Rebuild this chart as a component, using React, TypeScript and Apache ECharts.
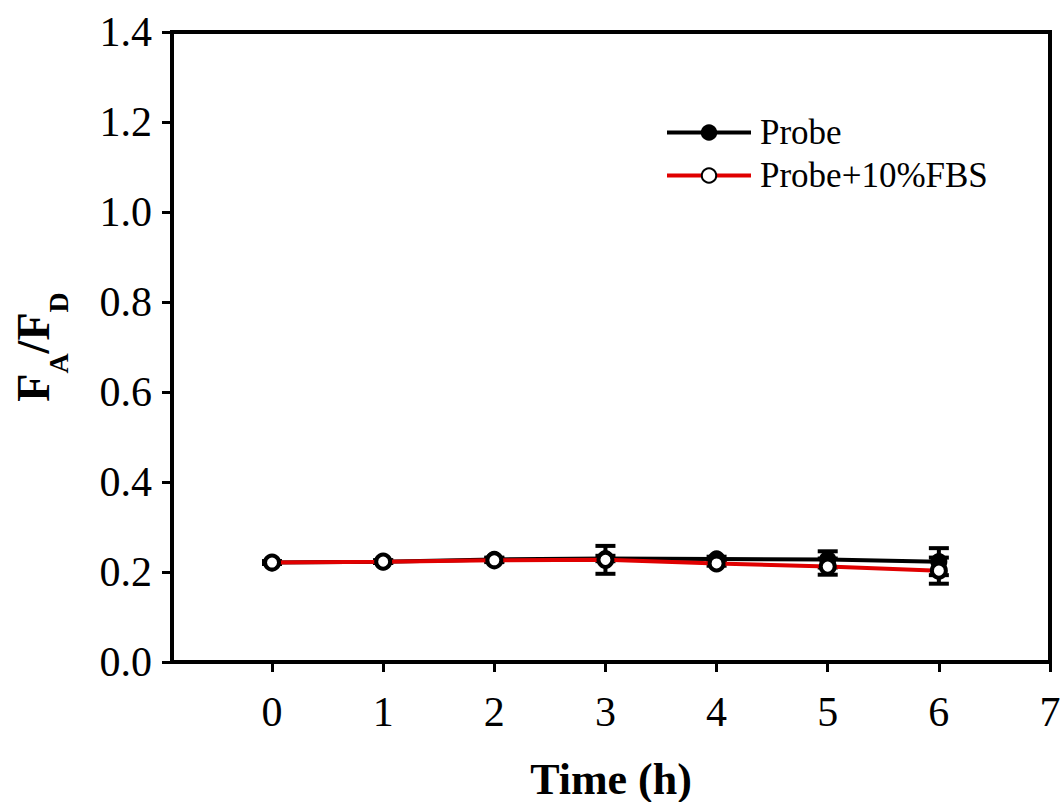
import React, { useEffect, useRef } from "react";
import * as echarts from "echarts";

const times = [0, 1, 2, 3, 4, 5, 6];
const probe = [0.221, 0.223, 0.228, 0.23, 0.229, 0.228, 0.223];
const probeErr = [0.003, 0.003, 0.004, 0.006, 0.005, 0.018, 0.03];
const fbs = [0.221, 0.223, 0.226, 0.227, 0.219, 0.212, 0.203];
const fbsErr = [0.003, 0.003, 0.004, 0.031, 0.005, 0.018, 0.029];
const xTicks = [0, 1, 2, 3, 4, 5, 6, 7];
const seriesNames = ["Probe", "Probe+10%FBS"];

const FONT = "'Liberation Serif', 'Times New Roman', serif";

function errorRender(params: any, api: any) {
  const x = api.value(0);
  const y = api.value(1);
  const e = api.value(2);
  const top = api.coord([x, y + e]);
  const bot = api.coord([x, y - e]);
  const hw = 10;
  const style = { stroke: "#000", lineWidth: 4 };
  return {
    type: "group",
    children: [
      { type: "line", shape: { x1: top[0], y1: top[1], x2: bot[0], y2: bot[1] }, style },
      { type: "line", shape: { x1: top[0] - hw, y1: top[1], x2: top[0] + hw, y2: top[1] }, style },
      { type: "line", shape: { x1: bot[0] - hw, y1: bot[1], x2: bot[0] + hw, y2: bot[1] }, style },
    ],
  };
}

export default function App() {
  const ref = useRef<HTMLDivElement>(null);
  useEffect(() => {
    if (!ref.current) return;
    const chart = echarts.init(ref.current, undefined, { renderer: "svg" });
    chart.setOption({
      animation: false,
      backgroundColor: "#fff",
      textStyle: { fontFamily: FONT },
      grid: {
        left: 172,
        right: 12,
        top: 32,
        bottom: 140,
        containLabel: false,
        outerBoundsMode: "none",
        show: true,
        borderColor: "#000",
        borderWidth: 4,
        backgroundColor: "transparent",
      },
      legend: {
        orient: "vertical",
        left: 660,
        top: 110,
        itemWidth: 84,
        itemHeight: 18,
        itemGap: 8,
        data: seriesNames,
        lineStyle: { width: 4 },
        textStyle: { fontFamily: FONT, fontSize: 35, color: "#000", padding: [0, 0, 0, 4] },
      },
      xAxis: {
        type: "value",
        min: -0.9,
        max: 7,
        splitLine: { show: false },
        axisLine: { show: true, onZero: false, lineStyle: { color: "#000", width: 4 } },
        axisTick: {
          show: true,
          inside: false,
          length: 10,
          customValues: xTicks,
          lineStyle: { color: "#000", width: 3 },
        },
        axisLabel: {
          customValues: xTicks,
          fontFamily: FONT,
          fontSize: 42,
          color: "#000",
          margin: 29,
        },
        name: "Time (h)",
        nameLocation: "middle",
        nameGap: 95,
        nameTextStyle: { fontFamily: FONT, fontSize: 44, fontWeight: "bold", color: "#000" },
      },
      yAxis: {
        type: "value",
        min: 0,
        max: 1.4,
        interval: 0.2,
        splitLine: { show: false },
        axisLine: { show: true, onZero: false, lineStyle: { color: "#000", width: 4 } },
        axisTick: { show: true, inside: false, length: 10, lineStyle: { color: "#000", width: 3 } },
        axisLabel: {
          fontFamily: FONT,
          fontSize: 42,
          color: "#000",
          margin: 20,
          formatter: (v: number) => v.toFixed(1),
        },
        name: "{f|F}{s|A}{f|/F}{s|D}",
        nameLocation: "middle",
        nameRotate: 90,
        nameGap: 112,
        nameTextStyle: {
          rich: {
            f: { fontFamily: FONT, fontSize: 46, fontWeight: "bold", color: "#000", lineHeight: 50, verticalAlign: "top" },
            s: { fontFamily: FONT, fontSize: 28, fontWeight: "bold", color: "#000", lineHeight: 50, verticalAlign: "bottom", padding: [0, 0, -12, 0] },
          },
        },
      },
      series: [
        {
          name: seriesNames[0],
          type: "line",
          data: times.map((t, i) => [t, probe[i]]),
          symbol: "circle",
          symbolSize: 15,
          lineStyle: { color: "#000", width: 4 },
          itemStyle: { color: "#000", borderColor: "#000", borderWidth: 2 },
          z: 2,
        },
        {
          name: "probeErr",
          type: "custom",
          renderItem: errorRender,
          data: times.map((t, i) => [t, probe[i], probeErr[i]]),
          z: 3,
          silent: true,
        },
        {
          name: "fbsErr",
          type: "custom",
          renderItem: errorRender,
          data: times.map((t, i) => [t, fbs[i], fbsErr[i]]),
          z: 3,
          silent: true,
        },
        {
          name: seriesNames[1],
          type: "line",
          data: times.map((t, i) => [t, fbs[i]]),
          symbol: "circle",
          symbolSize: 14,
          lineStyle: { color: "#e00000", width: 4 },
          itemStyle: { color: "#fff", borderColor: "#000", borderWidth: 4 },
          z: 4,
        },
      ],
    });
    return () => chart.dispose();
  }, []);
  return <div ref={ref} style={{ width: 1062, height: 802, position: "absolute", left: 0, top: 0 }} />;
}
